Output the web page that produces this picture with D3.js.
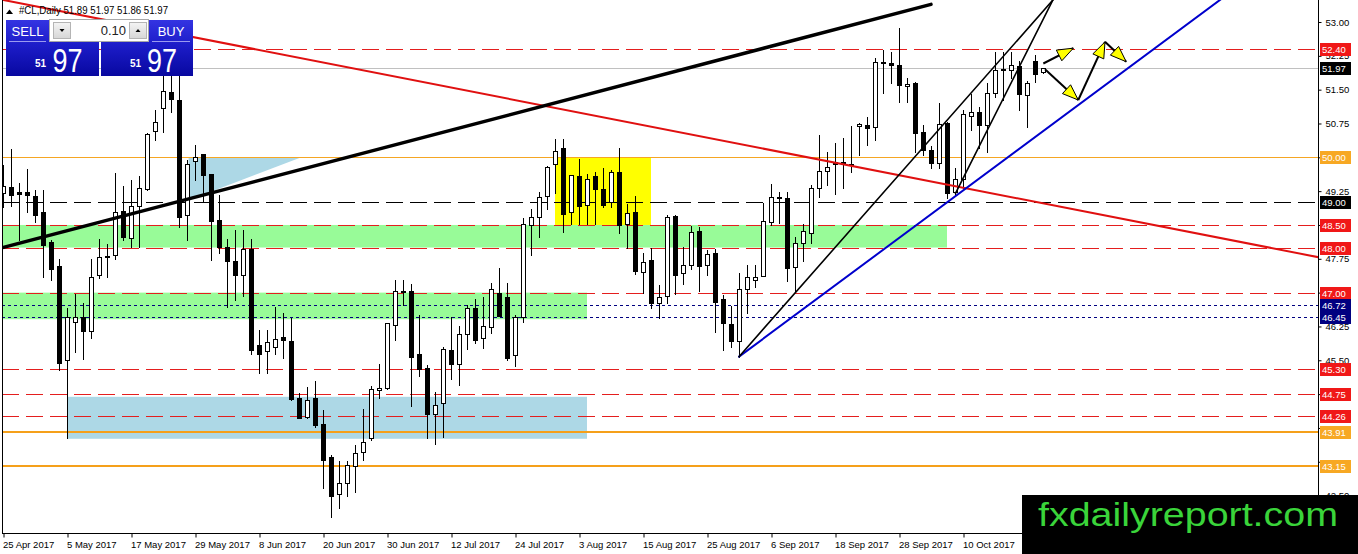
<!DOCTYPE html>
<html lang="en">
<head>
<meta charset="utf-8">
<title>#CL Daily</title>
<script src="https://cdn.jsdelivr.net/npm/d3@7"></script>
<style>
  body { margin: 0; background: #fff; }
  svg text { font-family: "Liberation Sans", Arial, sans-serif; }
</style>
</head>
<body>
<script>
// daily candles, 25 Apr 2017 .. 24 Oct 2017 (one per weekday)
const opens = [49.21,49.35,49.22,49.23,49.14,48.79,48.12,47.59,45.51,46.35,
  46.45,46.16,47.38,47.80,47.84,48.82,48.21,48.91,49.29,50.59,
  51.09,51.45,51.27,48.73,49.92,50.07,49.64,48.62,48.02,47.71,
  47.38,47.97,45.83,45.70,45.80,46.02,45.92,44.66,44.24,44.66,
  44.09,43.36,42.53,42.78,43.15,43.47,43.77,44.85,44.88,46.28,
  47.04,47.04,45.64,45.34,44.32,44.56,45.73,45.42,46.08,46.67,
  45.99,46.23,47.00,46.91,45.62,46.45,48.49,48.68,49.14,49.85,
  50.20,48.79,49.59,48.95,49.59,49.29,49.01,49.68,48.52,48.79,
  47.46,47.72,46.78,46.92,48.70,47.43,47.61,48.37,47.61,47.87,
  46.85,46.30,45.93,47.07,47.28,47.37,48.57,49.13,49.09,47.56,
  48.11,48.33,49.31,49.70,49.90,49.90,49.82,50.70,50.72,50.68,
  52.10,52.10,52.05,51.58,51.64,50.57,50.16,49.87,50.75,49.24,
  49.53,50.92,51.01,50.72,51.42,51.93,51.94,52.02,51.38,52.14,
  51.89];
const highs = [49.83,50.18,49.43,49.75,49.28,49.28,48.17,47.74,46.66,46.98,
  46.76,47.74,48.20,48.08,49.65,49.36,49.50,49.58,50.53,51.06,
  51.90,51.90,51.95,49.95,50.27,50.07,49.64,49.16,48.18,48.39,
  48.39,48.20,46.17,46.17,46.69,46.54,46.43,44.77,44.90,45.05,
  44.40,43.40,43.27,43.27,43.62,44.41,44.93,45.42,46.33,47.29,
  47.29,47.20,46.50,45.39,44.80,45.80,46.45,46.26,46.73,46.85,
  46.91,47.22,47.54,47.21,46.50,48.65,48.85,49.24,49.81,50.40,
  50.40,49.61,49.96,49.63,49.68,49.76,49.72,50.20,48.96,49.14,
  47.87,47.98,47.17,48.73,48.72,48.02,48.48,48.46,47.94,47.96,
  46.95,46.70,47.44,47.61,47.61,48.98,49.41,49.24,49.24,48.24,
  48.52,49.39,50.49,50.12,50.31,50.42,50.69,50.75,50.90,52.20,
  52.39,52.34,52.86,51.75,51.68,50.72,50.25,51.20,50.79,49.76,
  51.05,51.40,51.12,51.64,52.34,52.34,52.34,52.14,51.70,52.27,
  51.97];
const lows = [48.90,48.92,48.17,48.79,48.57,47.35,47.28,45.28,43.77,45.69,
  45.52,46.00,47.32,47.34,47.74,48.17,48.02,48.02,49.27,50.38,
  50.57,51.01,48.46,48.17,49.50,49.00,47.72,47.88,46.69,46.84,
  46.92,45.64,45.22,45.22,45.65,45.54,44.62,44.21,44.21,44.03,
  42.66,42.02,42.23,42.49,42.59,43.30,43.73,44.66,44.87,45.94,
  46.72,44.49,45.15,43.77,43.64,43.80,45.08,44.95,45.74,45.88,
  45.77,46.11,46.48,45.51,45.37,46.35,47.83,48.24,48.85,49.20,
  48.35,48.52,48.52,48.52,48.52,48.89,48.89,48.33,47.98,47.41,
  47.00,46.65,46.43,46.78,46.98,47.19,47.52,47.04,47.39,46.13,
  45.73,45.80,45.58,46.54,47.13,47.37,48.50,48.54,47.26,47.02,
  47.71,48.11,49.13,49.39,49.19,49.31,49.68,50.05,50.27,50.38,
  51.42,51.64,51.23,51.23,50.12,50.05,49.76,49.76,49.09,49.16,
  49.31,50.61,50.20,50.12,51.34,51.27,51.75,51.06,50.68,51.68,
  51.86];
const closes = [49.36,49.17,49.19,49.17,48.71,48.05,47.52,45.45,46.47,46.47,
  46.14,47.34,47.80,47.82,48.79,48.23,48.93,49.32,50.52,50.78,
  51.48,51.29,48.67,49.86,50.01,49.61,48.59,48.02,47.71,47.38,
  47.96,45.73,45.65,45.90,45.98,45.95,44.64,44.23,44.63,44.07,
  43.29,42.50,42.77,43.18,43.45,43.69,44.87,44.88,46.32,47.04,
  47.01,45.57,45.30,44.32,44.51,45.74,45.42,46.08,46.65,45.95,
  46.26,47.07,46.48,45.54,46.45,48.52,48.68,49.13,49.78,50.15,
  48.74,49.61,48.91,49.51,49.30,48.94,49.68,48.50,48.76,47.49,
  47.69,46.76,46.91,48.67,47.39,47.61,48.35,47.59,47.85,46.80,
  46.32,45.93,47.07,47.34,47.34,48.59,49.13,49.10,47.54,48.09,
  48.37,49.31,49.70,49.79,49.85,49.85,49.85,50.73,50.64,52.12,
  52.11,52.05,51.60,51.62,50.55,50.16,49.88,50.74,49.20,49.53,
  50.96,51.01,50.72,51.42,51.94,51.95,52.04,51.40,51.65,51.85,
  51.97];

const dateLabels = ["25 Apr 2017","5 May 2017","17 May 2017","29 May 2017","8 Jun 2017",
  "20 Jun 2017","30 Jun 2017","12 Jul 2017","24 Jul 2017","3 Aug 2017","15 Aug 2017",
  "25 Aug 2017","6 Sep 2017","18 Sep 2017","28 Sep 2017","10 Oct 2017"];
const labelEvery = 8;
const priceTicks = [42.50,43.25,44.00,44.75,45.50,46.25,47.00,47.75,48.50,49.25,50.00,50.75,51.50,52.25,53.00];

// horizontal levels
const redLevels = [52.40, 48.50, 48.00, 47.00, 45.30, 44.75, 44.26];
const blackLevels = [49.00];
const navyLevels = [46.72, 46.45];
const orangeThinLevels = [50.00];
const orangeThickLevels = [43.91, 43.15];
const lastPrice = 51.97;

// zones: [fromBar, toBar, topPrice, bottomPrice]
const greenZones = [[-2, 118, 48.50, 48.00], [-2, 73, 47.00, 46.41]];
const blueZone = [8, 73, 44.69, 43.76];
const yellowZone = [69, 81, 50.00, 48.50];
const blueTriangle = [[23.2, 50.00], [37.3, 50.00], [23.2, 49.05]];

// trend lines: two anchor points [bar, price]
const thickTrend = [[0, 48.00], [116, 53.39]];
const redTrend = [[0, 53.49], [130, 48.98]];
const blueTrend = [[92, 45.58], [151.75, 53.44]];
const thinTrendA = [[92, 45.58], [131, 53.44]];
const thinTrendB = [[119.06, 49.20], [131.1, 53.44]];

// projected moves
const arrowUp = [[130.04, 52.08], [133.79, 52.42]];
const arrowPath = [[130.25, 51.95], [134.41, 51.27], [137.75, 52.56], [140.4, 52.12]];

const W = 1358, H = 554;
const plotL = 2, plotR = 1318, plotB = 533;

const x = d3.scaleLinear().domain([0, 1]).range([3, 11]);
const y = d3.scaleLinear().domain([42.5, 53]).range([495.6, 22]);

const svg = d3.select("body").append("svg")
  .attr("width", W).attr("height", H)
  .style("display", "block");

const defs = svg.append("defs");
defs.append("clipPath").attr("id", "plotClip")
  .append("rect").attr("x", plotL).attr("y", 0)
  .attr("width", plotR - plotL).attr("height", plotB);
const grad = defs.append("linearGradient").attr("id", "blueGrad")
  .attr("x1", 0).attr("y1", 0).attr("x2", 0).attr("y2", 1);
grad.append("stop").attr("offset", "0%").attr("stop-color", "#3434e2");
grad.append("stop").attr("offset", "45%").attr("stop-color", "#1c1cc8");
grad.append("stop").attr("offset", "100%").attr("stop-color", "#0808a0");
const btnGrad = defs.append("linearGradient").attr("id", "btnGrad")
  .attr("x1", 0).attr("y1", 0).attr("x2", 0).attr("y2", 1);
btnGrad.append("stop").attr("offset", "0%").attr("stop-color", "#f4f4f4");
btnGrad.append("stop").attr("offset", "100%").attr("stop-color", "#d6d6d6");

const plot = svg.append("g").attr("clip-path", "url(#plotClip)");

// zones
function zoneRect(z, fill) {
  plot.append("rect")
    .attr("x", x(z[0])).attr("y", y(z[2]))
    .attr("width", x(z[1]) - x(z[0]))
    .attr("height", y(z[3]) - y(z[2]))
    .attr("fill", fill);
}
greenZones.forEach(z => zoneRect(z, "#98fb98"));
zoneRect(blueZone, "#add8e6");
zoneRect(yellowZone, "#ffff00");
plot.append("path")
  .attr("d", d3.line().x(d => x(d[0])).y(d => y(d[1]))(blueTriangle) + "Z")
  .attr("fill", "#add8e6");

// horizontal levels
function hline(v, color, width, dash) {
  const yy = Math.round(y(v)) + (width % 2 ? 0.5 : 0);
  plot.append("line")
    .attr("x1", plotL).attr("x2", plotR)
    .attr("y1", yy).attr("y2", yy)
    .attr("stroke", color).attr("stroke-width", width)
    .attr("stroke-dasharray", dash);
}
hline(lastPrice, "#c0c0c0", 1, null);
orangeThinLevels.forEach(v => hline(v, "#f5a623", 1, null));
orangeThickLevels.forEach(v => hline(v, "#f5a01a", 2, null));
redLevels.forEach(v => hline(v, "#e41e1e", 1, "17,7"));
blackLevels.forEach(v => hline(v, "#000", 1, "17,7"));
navyLevels.forEach(v => hline(v, "#000080", 1, "3,3"));

// candles
const bars = opens.map((o, i) => ({ i, o, h: highs[i], l: lows[i], c: closes[i] }));
const cg = plot.append("g");
cg.selectAll("line.wick").data(bars).join("line")
  .attr("class", "wick")
  .attr("x1", d => x(d.i) + 0.5).attr("x2", d => x(d.i) + 0.5)
  .attr("y1", d => Math.round(y(d.h))).attr("y2", d => Math.round(y(d.l)) + 1)
  .attr("stroke", "#000");
cg.selectAll("rect.body").data(bars).join("rect")
  .attr("class", "body")
  .attr("x", d => x(d.i) - 1.5)
  .attr("y", d => Math.round(y(Math.max(d.o, d.c))) + 0.5)
  .attr("width", 4)
  .attr("height", d => Math.max(Math.round(y(Math.min(d.o, d.c))) - Math.round(y(Math.max(d.o, d.c))), 0))
  .attr("fill", d => d.c >= d.o ? "#fff" : "#000")
  .attr("stroke", "#000");

// trend lines
function trend(pts, color, width, fromBar, toBar) {
  const f = d3.scaleLinear().domain([pts[0][0], pts[1][0]]).range([pts[0][1], pts[1][1]]);
  plot.append("line")
    .attr("x1", x(fromBar)).attr("y1", y(f(fromBar)))
    .attr("x2", x(toBar)).attr("y2", y(f(toBar)))
    .attr("stroke", color).attr("stroke-width", width)
    .attr("stroke-linecap", "round");
}
trend(redTrend, "#e01010", 2, -2, 170);
trend(thickTrend, "#000", 3.5, -2, thickTrend[1][0]);
trend(blueTrend, "#0000cc", 2, blueTrend[0][0], 155);
trend(thinTrendA, "#000", 1.6, thinTrendA[0][0], 132);
trend(thinTrendB, "#000", 1.6, thinTrendB[0][0], 131.6);

// arrows
function arrowSeg(a, b) {
  const x1 = x(a[0]), y1 = y(a[1]), x2 = x(b[0]), y2 = y(b[1]);
  plot.append("line").attr("x1", x1).attr("y1", y1).attr("x2", x2).attr("y2", y2)
    .attr("stroke", "#000").attr("stroke-width", 2);
  const ang = Math.atan2(y2 - y1, x2 - x1);
  const L = 16, hw = 6;
  const bx = x2 - L * Math.cos(ang), by = y2 - L * Math.sin(ang);
  const px = -Math.sin(ang) * hw, py = Math.cos(ang) * hw;
  plot.append("path")
    .attr("d", `M${x2},${y2}L${bx + px},${by + py}L${bx - px},${by - py}Z`)
    .attr("fill", "#ffff00").attr("stroke", "#000").attr("stroke-width", 1);
}
arrowSeg(arrowUp[0], arrowUp[1]);
d3.pairs(arrowPath).forEach(p => arrowSeg(p[0], p[1]));

// frame
svg.append("line").attr("x1", plotL + 0.5).attr("x2", plotL + 0.5).attr("y1", 0).attr("y2", plotB)
  .attr("stroke", "#000");
svg.append("line").attr("x1", plotL).attr("x2", plotR + 1).attr("y1", plotB + 0.5).attr("y2", plotB + 0.5)
  .attr("stroke", "#000");
svg.append("line").attr("x1", plotR + 0.5).attr("x2", plotR + 0.5).attr("y1", 0).attr("y2", plotB)
  .attr("stroke", "#000");

// price tags drawn on the axis hide the tick labels right under them
const tagLevels = redLevels.concat(blackLevels, navyLevels, orangeThinLevels, orangeThickLevels, [lastPrice]);
const hidden = v => tagLevels.some(t => Math.abs(y(t) - y(v)) < 5);

// axes
const yAxis = d3.axisRight(y).tickValues(priceTicks)
  .tickFormat(v => hidden(v) ? "" : d3.format(".2f")(v))
  .tickSize(3).tickPadding(4);
const ya = svg.append("g").attr("transform", `translate(${plotR + 0.5},0)`).call(yAxis);
ya.select(".domain").remove();
ya.selectAll("text").attr("font-size", "9.5px").attr("fill", "#000")
  .attr("font-family", "'Liberation Sans', Arial, sans-serif");

const xAxis = d3.axisBottom(x).tickValues(dateLabels.map((d, i) => i * labelEvery))
  .tickFormat((d, i) => dateLabels[i]).tickSize(4).tickPadding(4);
const xa = svg.append("g").attr("transform", `translate(0.5,${plotB + 0.5})`).call(xAxis);
xa.select(".domain").remove();
xa.selectAll("text").attr("text-anchor", "start").attr("x", -1)
  .attr("font-size", "9.5px").attr("fill", "#000")
  .attr("font-family", "'Liberation Sans', Arial, sans-serif");

// price tags on the axis
function tag(v, fill) {
  const yy = Math.round(y(v));
  svg.append("rect").attr("x", plotR + 2).attr("y", yy - 6)
    .attr("width", 31).attr("height", 13).attr("fill", fill);
  svg.append("text").attr("x", plotR + 4).attr("y", yy + 3.5)
    .attr("font-size", "9.5px").attr("fill", "#fff").text(v.toFixed(2));
}
redLevels.forEach(v => tag(v, "#f01818"));
blackLevels.forEach(v => tag(v, "#000"));
navyLevels.forEach(v => tag(v, "#000080"));
orangeThinLevels.forEach(v => tag(v, "#f7a823"));
orangeThickLevels.forEach(v => tag(v, "#f7a823"));
tag(lastPrice, "#000");

// title
svg.append("path").attr("d", "M6,14L9.5,9.5L13,14Z").attr("fill", "#000");
svg.append("text").attr("x", 19).attr("y", 13.5).attr("font-size", "11px").attr("fill", "#000")
  .attr("textLength", 149).attr("lengthAdjust", "spacingAndGlyphs")
  .text("#CL,Daily  " + [opens[130], highs[130], lows[130], closes[130]].map(v => v.toFixed(2)).join(" "));

// one-click trading panel
const panel = svg.append("g");
panel.append("rect").attr("x", 6).attr("y", 20).attr("width", 93).attr("height", 56).attr("fill", "url(#blueGrad)");
panel.append("rect").attr("x", 101).attr("y", 20).attr("width", 92).attr("height", 56).attr("fill", "url(#blueGrad)");
panel.append("line").attr("x1", 9).attr("x2", 46).attr("y1", 41.5).attr("y2", 41.5).attr("stroke", "#9a9af0");
panel.append("line").attr("x1", 152).attr("x2", 190).attr("y1", 41.5).attr("y2", 41.5).attr("stroke", "#9a9af0");
panel.append("rect").attr("x", 49.5).attr("y", 19.5).attr("width", 99).attr("height", 22)
  .attr("fill", "#fff").attr("stroke", "#a8a8a8");
panel.append("rect").attr("x", 53.5).attr("y", 22.5).attr("width", 17).attr("height", 16)
  .attr("fill", "url(#btnGrad)").attr("stroke", "#b4b4b4");
panel.append("rect").attr("x", 129.5).attr("y", 22.5).attr("width", 17).attr("height", 16)
  .attr("fill", "url(#btnGrad)").attr("stroke", "#b4b4b4");
panel.append("path").attr("d", "M59.5,29L64.5,29L62,32Z").attr("fill", "#000");
panel.append("path").attr("d", "M135.5,32L140.5,32L138,29Z").attr("fill", "#000");
panel.append("text").attr("x", 126).attr("y", 35).attr("text-anchor", "end")
  .attr("font-size", "13px").attr("fill", "#222").text("0.10");
panel.append("text").attr("x", 27.5).attr("y", 35.5).attr("text-anchor", "middle")
  .attr("font-size", "13px").attr("fill", "#fff").text("SELL");
panel.append("text").attr("x", 171).attr("y", 35.5).attr("text-anchor", "middle")
  .attr("font-size", "13px").attr("fill", "#fff").text("BUY");
const bidBig = d3.format(".2f")(lastPrice).split(".");
[[35, 52.5], [130, 147]].forEach(p => {
  panel.append("text").attr("x", p[0]).attr("y", 66.5).attr("font-size", "10px")
    .attr("font-weight", "bold").attr("fill", "#fff").text(bidBig[0]);
  panel.append("text").attr("x", p[1]).attr("y", 72).attr("font-size", "34px")
    .attr("textLength", 30).attr("lengthAdjust", "spacingAndGlyphs")
    .attr("fill", "#fff").text(bidBig[1]);
});

// watermark
svg.append("rect").attr("x", 1022).attr("y", 495).attr("width", W - 1022).attr("height", H - 495).attr("fill", "#000");
svg.append("text").attr("x", 1038).attr("y", 526).attr("font-size", "33px")
  .attr("textLength", 300).attr("lengthAdjust", "spacingAndGlyphs")
  .attr("fill", "#3ad43a").text("fxdailyreport.com");
</script>
</body>
</html>
